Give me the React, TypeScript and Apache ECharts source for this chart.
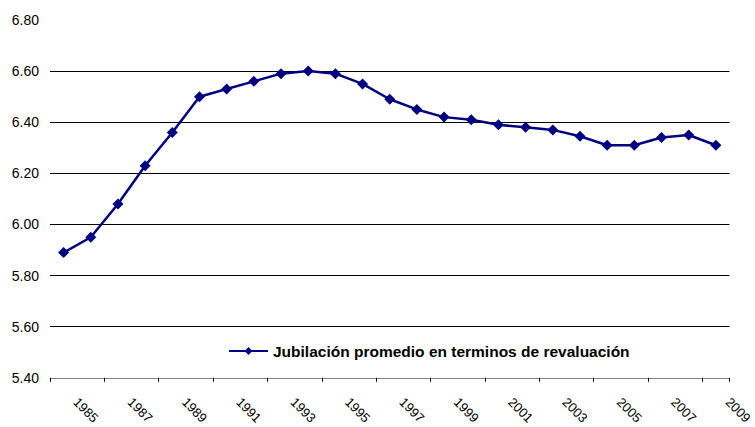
import React, { useEffect, useRef } from "react";
import * as echarts from "echarts";

const years: string[] = [
  "1985", "1986", "1987", "1988", "1989", "1990", "1991", "1992", "1993", "1994",
  "1995", "1996", "1997", "1998", "1999", "2000", "2001", "2002", "2003", "2004",
  "2005", "2006", "2007", "2008", "2009",
];
const jubilacion: number[] = [
  5.89, 5.95, 6.08, 6.23, 6.36, 6.5, 6.53, 6.56, 6.59, 6.6,
  6.59, 6.55, 6.49, 6.45, 6.42, 6.41, 6.39, 6.38, 6.37, 6.345,
  6.31, 6.31, 6.34, 6.35, 6.31,
];
const seriesName = "Jubilación promedio en terminos de revaluación";

export default function App() {
  const ref = useRef<HTMLDivElement>(null);
  useEffect(() => {
    if (!ref.current) return;
    const chart = echarts.init(ref.current, undefined, { renderer: "svg" });
    chart.setOption({
      animation: false,
      backgroundColor: "#ffffff",
      textStyle: { fontFamily: "Arial, 'Liberation Sans', sans-serif" },
      grid: { left: 50, right: 23, top: 20, bottom: 48, containLabel: false },
      legend: {
        data: [seriesName],
        left: 228,
        top: 343,
        padding: 0,
        itemWidth: 39,
        itemHeight: 10,
        itemGap: 3,
        textStyle: {
          fontSize: 15.5,
          fontWeight: "bold",
          color: "#000",
          fontFamily: "Arial, 'Liberation Sans', sans-serif",
        },
      },
      xAxis: {
        type: "category",
        data: years,
        boundaryGap: true,
        axisLine: { show: true, lineStyle: { color: "#808080", width: 1 } },
        axisTick: { show: true, interval: 1, length: 4, lineStyle: { color: "#000" } },
        axisLabel: {
          interval: 1,
          rotate: -45,
          margin: 10,
          padding: [0, 0, 0, 17],
          fontSize: 13,
          color: "#000",
          fontFamily: "Arial, 'Liberation Sans', sans-serif",
        },
      },
      yAxis: {
        type: "value",
        min: 5.4,
        max: 6.8,
        interval: 0.2,
        axisLine: { show: false },
        axisTick: { show: false },
        axisLabel: {
          formatter: (v: number) => v.toFixed(2),
          fontSize: 14,
          color: "#000",
          margin: 11,
          fontFamily: "Arial, 'Liberation Sans', sans-serif",
        },
        splitLine: { show: true, showMaxLine: false, lineStyle: { color: "#000", width: 1 } },
      },
      series: [
        {
          name: seriesName,
          type: "line",
          data: jubilacion,
          symbol: "diamond",
          symbolSize: 11,
          lineStyle: { color: "#000080", width: 2.5 },
          itemStyle: { color: "#000080" },
        },
      ],
    });
    return () => chart.dispose();
  }, []);
  return (
    <div
      ref={ref}
      style={{ position: "fixed", left: 0, top: 0, width: 755, height: 427 }}
    />
  );
}
